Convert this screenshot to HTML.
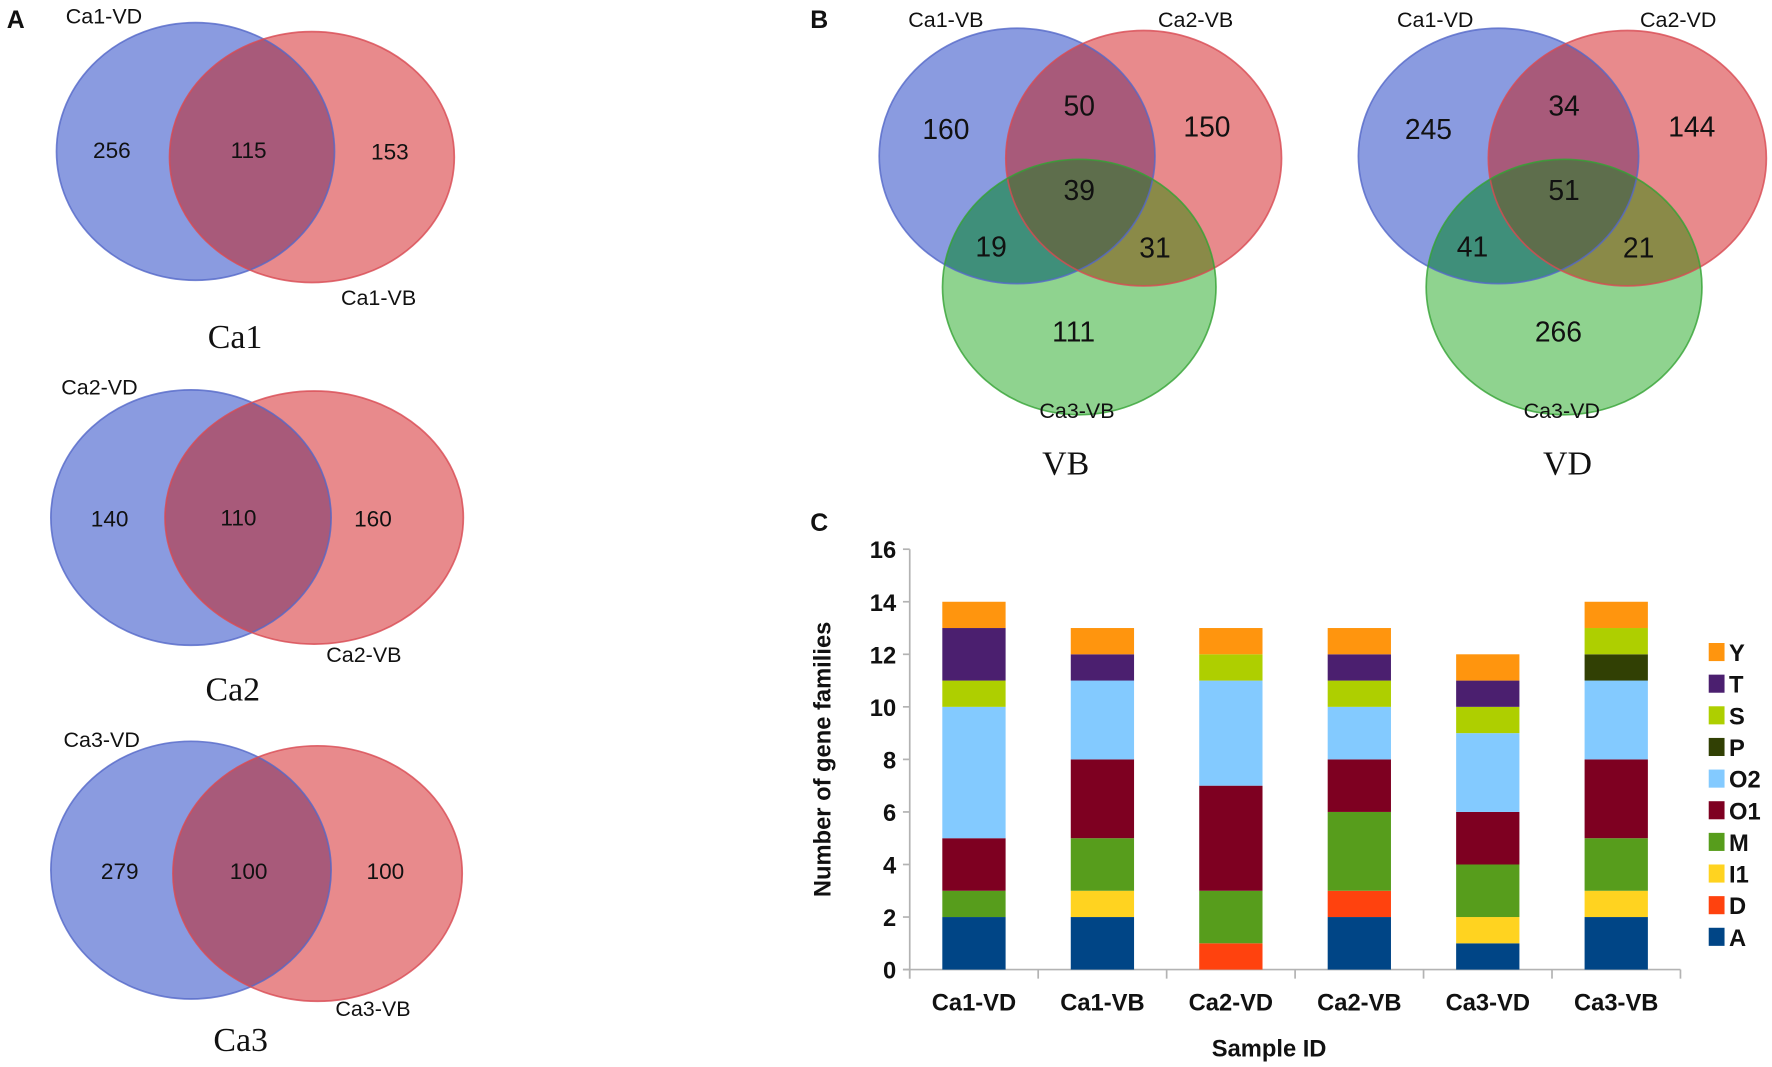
<!DOCTYPE html>
<html><head><meta charset="utf-8"><style>
html,body{margin:0;padding:0;background:#fff}
svg{display:block}
.n{font-family:"Liberation Sans",sans-serif;font-size:25px;fill:#111;text-anchor:middle}
.na{font-family:"Liberation Sans",sans-serif;font-size:20px;fill:#111;text-anchor:middle}
.lb{font-family:"Liberation Sans",sans-serif;font-size:19px;fill:#111;text-anchor:middle}
.t{font-family:"Liberation Serif",serif;font-size:30px;fill:#111;text-anchor:middle}
.p{font-family:"Liberation Sans",sans-serif;font-size:22px;font-weight:bold;fill:#111}
.ax{font-family:"Liberation Sans",sans-serif;font-size:21px;font-weight:bold;fill:#111}
.ob{fill:none;stroke:#5468c8;stroke-width:1.5;stroke-opacity:.8}
.or{fill:none;stroke:#d84a52;stroke-width:1.5;stroke-opacity:.8}
.og{fill:none;stroke:#34a234;stroke-width:1.5;stroke-opacity:.8}
</style></head><body>
<svg id="fig" width="1772" height="1067" viewBox="0 0 1568 944.2" preserveAspectRatio="none">
<defs>
<clipPath id="c1b"><ellipse cx="173" cy="134" rx="123" ry="114"/></clipPath>
<clipPath id="c2b"><ellipse cx="169" cy="458" rx="124" ry="113"/></clipPath>
<clipPath id="c3b"><ellipse cx="169" cy="770" rx="124" ry="114"/></clipPath>
<clipPath id="vbB"><ellipse cx="900" cy="138" rx="122" ry="113"/></clipPath>
<clipPath id="vbR"><ellipse cx="1012" cy="140" rx="122" ry="113"/></clipPath>
<clipPath id="vdB"><ellipse cx="1326" cy="138" rx="124" ry="113"/></clipPath>
<clipPath id="vdR"><ellipse cx="1440" cy="140" rx="123" ry="113"/></clipPath>
</defs>
<g>
<text class="p" x="6" y="25">A</text>
<g>
<ellipse cx="173" cy="134" rx="123" ry="114" fill="#8a9be0"/>
<ellipse cx="276" cy="139" rx="126" ry="111" fill="#e88a8c"/>
<ellipse cx="276" cy="139" rx="126" ry="111" fill="#a85a7a" clip-path="url(#c1b)"/>
<ellipse class="ob" cx="173" cy="134" rx="123" ry="114"/><ellipse class="or" cx="276" cy="139" rx="126" ry="111"/>
<text class="lb" x="92" y="21">Ca1-VD</text>
<text class="na" x="99" y="140">256</text>
<text class="na" x="220" y="140">115</text>
<text class="na" x="345" y="141">153</text>
<text class="lb" x="335" y="270">Ca1-VB</text>
<text class="t" x="208" y="308">Ca1</text>
</g>
<g>
<ellipse cx="169" cy="458" rx="124" ry="113" fill="#8a9be0"/>
<ellipse cx="278" cy="458" rx="132" ry="112" fill="#e88a8c"/>
<ellipse cx="278" cy="458" rx="132" ry="112" fill="#a85a7a" clip-path="url(#c2b)"/>
<ellipse class="ob" cx="169" cy="458" rx="124" ry="113"/><ellipse class="or" cx="278" cy="458" rx="132" ry="112"/>
<text class="lb" x="88" y="349">Ca2-VD</text>
<text class="na" x="97" y="466">140</text>
<text class="na" x="211" y="465">110</text>
<text class="na" x="330" y="466">160</text>
<text class="lb" x="322" y="586">Ca2-VB</text>
<text class="t" x="206" y="620">Ca2</text>
</g>
<g>
<ellipse cx="169" cy="770" rx="124" ry="114" fill="#8a9be0"/>
<ellipse cx="281" cy="773" rx="128" ry="113" fill="#e88a8c"/>
<ellipse cx="281" cy="773" rx="128" ry="113" fill="#a85a7a" clip-path="url(#c3b)"/>
<ellipse class="ob" cx="169" cy="770" rx="124" ry="114"/><ellipse class="or" cx="281" cy="773" rx="128" ry="113"/>
<text class="lb" x="90" y="661">Ca3-VD</text>
<text class="na" x="106" y="778">279</text>
<text class="na" x="220" y="778">100</text>
<text class="na" x="341" y="778">100</text>
<text class="lb" x="330" y="899">Ca3-VB</text>
<text class="t" x="213" y="930">Ca3</text>
</g>
</g>
<g>
<text class="p" x="717" y="25">B</text>
<g>
<ellipse cx="900" cy="138" rx="122" ry="113" fill="#8a9be0"/>
<ellipse cx="1012" cy="140" rx="122" ry="113" fill="#e88a8c"/>
<ellipse cx="955" cy="254" rx="121" ry="113" fill="#8fd38f"/>
<ellipse cx="1012" cy="140" rx="122" ry="113" fill="#a85a7a" clip-path="url(#vbB)"/>
<ellipse cx="955" cy="254" rx="121" ry="113" fill="#3f8f7a" clip-path="url(#vbB)"/>
<ellipse cx="955" cy="254" rx="121" ry="113" fill="#8a8a48" clip-path="url(#vbR)"/>
<g clip-path="url(#vbB)"><ellipse cx="955" cy="254" rx="121" ry="113" fill="#5e6e4c" clip-path="url(#vbR)"/></g>
<ellipse class="ob" cx="900" cy="138" rx="122" ry="113"/><ellipse class="or" cx="1012" cy="140" rx="122" ry="113"/><ellipse class="og" cx="955" cy="254" rx="121" ry="113"/>
<text class="lb" x="837" y="24">Ca1-VB</text>
<text class="lb" x="1058" y="24">Ca2-VB</text>
<text class="n" x="837" y="123">160</text>
<text class="n" x="955" y="102">50</text>
<text class="n" x="1068" y="121">150</text>
<text class="n" x="955" y="177">39</text>
<text class="n" x="877" y="227">19</text>
<text class="n" x="1022" y="228">31</text>
<text class="n" x="950" y="302">111</text>
<text class="lb" x="953" y="370">Ca3-VB</text>
<text class="t" x="943" y="420">VB</text>
</g>
<g>
<ellipse cx="1326" cy="138" rx="124" ry="113" fill="#8a9be0"/>
<ellipse cx="1440" cy="140" rx="123" ry="113" fill="#e88a8c"/>
<ellipse cx="1384" cy="254" rx="122" ry="113" fill="#8fd38f"/>
<ellipse cx="1440" cy="140" rx="123" ry="113" fill="#a85a7a" clip-path="url(#vdB)"/>
<ellipse cx="1384" cy="254" rx="122" ry="113" fill="#3f8f7a" clip-path="url(#vdB)"/>
<ellipse cx="1384" cy="254" rx="122" ry="113" fill="#8a8a48" clip-path="url(#vdR)"/>
<g clip-path="url(#vdB)"><ellipse cx="1384" cy="254" rx="122" ry="113" fill="#5e6e4c" clip-path="url(#vdR)"/></g>
<ellipse class="ob" cx="1326" cy="138" rx="124" ry="113"/><ellipse class="or" cx="1440" cy="140" rx="123" ry="113"/><ellipse class="og" cx="1384" cy="254" rx="122" ry="113"/>
<text class="lb" x="1270" y="24">Ca1-VD</text>
<text class="lb" x="1485" y="24">Ca2-VD</text>
<text class="n" x="1264" y="123">245</text>
<text class="n" x="1384" y="102">34</text>
<text class="n" x="1497" y="121">144</text>
<text class="n" x="1384" y="177">51</text>
<text class="n" x="1303" y="227">41</text>
<text class="n" x="1450" y="228">21</text>
<text class="n" x="1379" y="302">266</text>
<text class="lb" x="1382" y="370">Ca3-VD</text>
<text class="t" x="1387" y="420">VD</text>
</g>
</g>
<g id="panelC">
<text class="p" x="717" y="470">C</text>
</g>
</svg>
<script>
const categories = ["Ca1-VD","Ca1-VB","Ca2-VD","Ca2-VB","Ca3-VD","Ca3-VB"];
const seriesNames = ["A","D","I1","M","O1","O2","P","S","T","Y"];
const seriesColors = ["#004586","#ff420e","#ffd320","#579d1c","#7e0021","#83caff","#314004","#aecf00","#4b1f6f","#ff950e"];
const valA  = [2,2,0,2,1,2];
const valD  = [0,0,1,1,0,0];
const valI1 = [0,1,0,0,1,1];
const valM  = [1,2,2,3,2,2];
const valO1 = [2,3,4,2,2,3];
const valO2 = [5,3,4,2,3,3];
const valP  = [0,0,0,0,0,1];
const valS  = [1,0,1,1,1,1];
const valT  = [2,1,0,1,1,0];
const valY  = [1,1,1,1,1,1];
const yTicks = [0,2,4,6,8,10,12,14,16];

const series = [valA,valD,valI1,valM,valO1,valO2,valP,valS,valT,valY];
const NS = "http://www.w3.org/2000/svg";
const g = document.getElementById("panelC");
const x0 = 805, x1 = 1487, y0 = 858, yTop = 486, yMax = 16;
const band = (x1 - x0) / categories.length;
const barW = 56;
function yS(v){ return y0 - (v / yMax) * (y0 - yTop); }
function xC(i){ return x0 + band * (i + 0.5); }
function mk(tag, attrs){ const e = document.createElementNS(NS, tag); for (const k in attrs) e.setAttribute(k, attrs[k]); g.appendChild(e); return e; }

let ya = mk("line",{x1:x0,y1:yTop,x2:x0,y2:y0+8,stroke:"#b3b3b3","stroke-width":1.5});


let xa = mk("line",{x1:x0-6,y1:y0,x2:x1,y2:y0,stroke:"#b3b3b3","stroke-width":1.5});


yTicks.forEach(function(t){
  const y = yS(t);
  const tk = mk("line",{x1:x0-6,y1:y,x2:x0,y2:y,stroke:"#b3b3b3","stroke-width":1.5});
  
  
  const tl = mk("text",{x:x0-12,y:y+8,"text-anchor":"end",class:"ax","font-size":"22"});
  tl.textContent = t;
  
  
});
for (let i = 0; i <= categories.length; i++){
  const x = x0 + band * i;
  const tk = mk("line",{x1:x,y1:y0,x2:x,y2:y0+8,stroke:"#b3b3b3","stroke-width":1.5});
  
  
}
categories.forEach(function(c, i){
  const tl = mk("text",{x:xC(i),y:y0+36,"text-anchor":"middle",class:"ax","font-size":"22"});
  tl.textContent = c;
  
  
  let acc = 0;
  series.forEach(function(s, k){
    const v = s[i];
    if (v > 0){
      const r = mk("rect",{x:xC(i)-barW/2,y:yS(acc+v),width:barW,height:yS(acc)-yS(acc+v),fill:seriesColors[k]});
      
      
    }
    acc += v;
  });
});
const yt = mk("text",{x:0,y:0,transform:"translate(735,672) rotate(-90)","text-anchor":"middle",class:"ax","font-size":"22"});
yt.textContent = "Number of gene families";


const xt = mk("text",{x:1123,y:935,"text-anchor":"middle",class:"ax"});
xt.textContent = "Sample ID";


for (let k = seriesNames.length - 1, j = 0; k >= 0; k--, j++){
  const ly = 577 + j * 28;
  const sw = mk("rect",{x:1512,y:ly-8,width:14,height:16,fill:seriesColors[k]});
  
  
  const lt = mk("text",{x:1530,y:ly+8,class:"ax"});
  lt.textContent = seriesNames[k];
  
  
}
</script>
</body></html>
